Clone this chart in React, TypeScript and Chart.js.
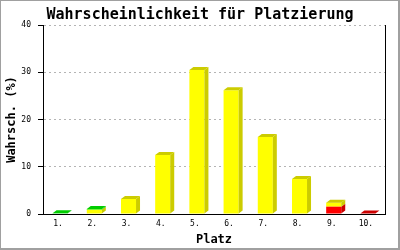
import { useEffect, useRef } from 'react';
import { Chart, registerables } from 'chart.js';

Chart.register(...registerables);

const categories = ['1.', '2.', '3.', '4.', '5.', '6.', '7.', '8.', '9.', '10.'];
const redValues = [0, 0, 0, 0, 0, 0, 0, 0, 1.55, 0.1];
const yellowValues = [0, 0.9, 3.2, 12.5, 30.5, 26.2, 16.3, 7.4, 0.85, 0];
const greenValues = [0.15, 0.15, 0, 0, 0, 0, 0, 0, 0, 0];
const yMin = 0;
const yMax = 40;
const yStep = 10;

const MONO = '"DejaVu Sans Mono", "Liberation Mono", monospace';

const depthPlugin = {
  id: 'depth3d',
  afterDatasetsDraw(chart: any) {
    const ctx = chart.ctx;
    const dx = 4;
    const dy = 3;
    const n = chart.data.labels.length;
    const sets = chart.data.datasets;
    ctx.save();
    for (let j = 0; j < n; j++) {
      let topIdx = -1;
      sets.forEach((ds: any, i: number) => {
        if (ds.data[j] > 0) topIdx = i;
      });
      sets.forEach((ds: any, i: number) => {
        if (!(ds.data[j] > 0)) return;
        const el = chart.getDatasetMeta(i).data[j];
        const { x, y, base, width } = el.getProps(['x', 'y', 'base', 'width'], true);
        const l = x - width / 2;
        const r = x + width / 2;
        ctx.fillStyle = ds.sideColor;
        ctx.beginPath();
        ctx.moveTo(r, y);
        ctx.lineTo(r + dx, y - dy);
        ctx.lineTo(r + dx, base - dy);
        ctx.lineTo(r, base);
        ctx.closePath();
        ctx.fill();
        if (i === topIdx) {
          ctx.beginPath();
          ctx.moveTo(l, y);
          ctx.lineTo(l + dx, y - dy);
          ctx.lineTo(r + dx, y - dy);
          ctx.lineTo(r, y);
          ctx.closePath();
          ctx.fill();
        }
      });
    }
    ctx.restore();
  },
};

const framePlugin = {
  id: 'frame',
  afterDraw(chart: any) {
    const ctx = chart.ctx;
    ctx.save();
    ctx.fillStyle = '#a0a0a0';
    const W = chart.width;
    const H = chart.height;
    ctx.fillRect(0, 0, W, 1);
    ctx.fillRect(0, 0, 1, H);
    ctx.fillRect(W - 2, 0, 2, H);
    ctx.fillRect(0, H - 2, W, 2);
    ctx.restore();
  },
};

const bgPlugin = {
  id: 'bg',
  beforeDraw(chart: any) {
    const ctx = chart.ctx;
    ctx.save();
    ctx.fillStyle = '#fff';
    ctx.fillRect(0, 0, chart.width, chart.height);
    ctx.restore();
  },
};

export default function App() {
  const ref = useRef<HTMLCanvasElement | null>(null);
  useEffect(() => {
    if (!ref.current) return;
    const chart = new Chart(ref.current, {
      type: 'bar',
      data: {
        labels: categories,
        datasets: [
          { label: 'red', data: redValues, backgroundColor: '#ff0000', sideColor: '#cc0000', borderWidth: 0 } as any,
          { label: 'yellow', data: yellowValues, backgroundColor: '#ffff00', sideColor: '#cccc00', borderWidth: 0 } as any,
          { label: 'green', data: greenValues, backgroundColor: '#00ee00', sideColor: '#00cc00', borderWidth: 0 } as any,
        ],
      },
      options: {
        responsive: false,
        animation: false,
        devicePixelRatio: 1,
        layout: { padding: { left: 0, right: 0, top: 0, bottom: 0 } },
        datasets: { bar: { barPercentage: 0.44, categoryPercentage: 1 } },
        plugins: {
          legend: { display: false },
          tooltip: { enabled: false },
          title: {
            display: true,
            text: 'Wahrscheinlichkeit für Platzierung',
            color: '#000',
            font: { family: MONO, size: 15, weight: 'bold', lineHeight: 1.2 },
            padding: { top: 6, bottom: 1 },
          },
        },
        scales: {
          x: {
            stacked: true,
            grid: { display: false, drawTicks: false },
            border: { display: true, color: '#000', width: 1 },
            ticks: {
              color: '#000',
              font: { family: MONO, size: 8 },
              padding: 5,
              maxRotation: 0,
              autoSkip: false,
              labelOffset: -2,
            },
            title: {
              display: true,
              text: 'Platz',
              color: '#000',
              font: { family: MONO, size: 12, weight: 'bold', lineHeight: 1.2 },
              padding: { top: 0, bottom: 3 },
            },
            afterFit: (s: any) => {
              s.height = 36;
            },
          },
          y: {
            stacked: true,
            min: yMin,
            max: yMax,
            ticks: {
              stepSize: yStep,
              color: '#000',
              font: { family: MONO, size: 8 },
              padding: 7,
            },
            grid: {
              color: '#b4b4b4',
              tickColor: '#000',
              tickLength: 5,
              tickBorderDash: [],
            },
            border: { display: true, color: '#000', width: 1, dash: [2, 3] },
            title: {
              display: true,
              text: 'Wahrsch. (%)',
              color: '#000',
              font: { family: MONO, size: 12, weight: 'bold', lineHeight: 1.2 },
              padding: { top: 5, bottom: 0 },
            },
            afterFit: (s: any) => {
              s.width = 43;
            },
          },
          yRight: {
            position: 'right',
            display: true,
            min: yMin,
            max: yMax,
            grid: { display: false, drawTicks: false },
            ticks: { display: false },
            border: { display: true, color: '#000', width: 1 },
            afterFit: (s: any) => {
              s.width = 15;
            },
          },
        },
      } as any,
      plugins: [bgPlugin, depthPlugin, framePlugin],
    });
    return () => chart.destroy();
  }, []);
  return (
    <div style={{ position: 'absolute', left: 0, top: 0, width: 400, height: 250 }}>
      <canvas ref={ref} width={400} height={250} />
    </div>
  );
}
